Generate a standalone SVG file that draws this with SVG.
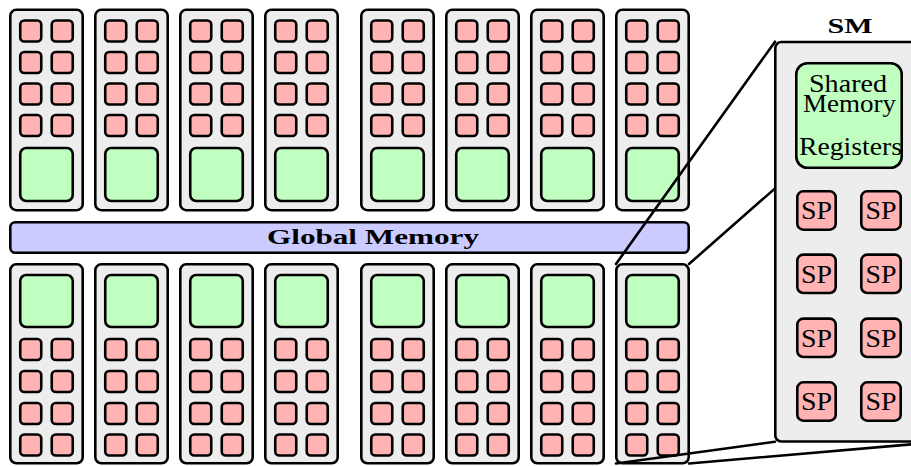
<svg xmlns="http://www.w3.org/2000/svg" xmlns:xlink="http://www.w3.org/1999/xlink" width="911" height="466" viewBox="0 0 911 466">
  <style>
    .sm { fill: #ededed; stroke: #000; stroke-width: 2.6; }
    .core { fill: #ffb3b3; stroke: #000; stroke-width: 2.6; }
    .mem { fill: #c0ffc0; stroke: #000; stroke-width: 2.6; }
    .gmem { fill: #cbcbff; stroke: #000; stroke-width: 2.6; }
    .link { fill: none; stroke: #000; stroke-width: 2.6; stroke-linecap: round; }
    .bold { font-family: "Liberation Serif", "DejaVu Serif", serif; font-weight: bold; font-size: 22px; fill: #000; }
    .lbl { font-family: "Liberation Serif", "DejaVu Serif", serif; font-size: 25px; fill: #000; text-anchor: middle; }
  </style>
  <defs>
    <!-- multiprocessor, upper row: cores on top, memory block below -->
    <g id="sm-up">
      <rect class="sm" x="1.3" y="9.8" width="72.4" height="200.4" rx="6"/>
      <rect class="core" x="11.25" y="20.5" width="21" height="21" rx="4"/>
      <rect class="core" x="42.75" y="20.5" width="21" height="21" rx="4"/>
      <rect class="core" x="11.25" y="52" width="21" height="21" rx="4"/>
      <rect class="core" x="42.75" y="52" width="21" height="21" rx="4"/>
      <rect class="core" x="11.25" y="83.5" width="21" height="21" rx="4"/>
      <rect class="core" x="42.75" y="83.5" width="21" height="21" rx="4"/>
      <rect class="core" x="11.25" y="115" width="21" height="21" rx="4"/>
      <rect class="core" x="42.75" y="115" width="21" height="21" rx="4"/>
      <rect class="mem" x="11.25" y="148" width="52.5" height="53" rx="6"/>
    </g>
    <!-- multiprocessor, lower row: memory block on top, cores below -->
    <g id="sm-down">
      <rect class="sm" x="1.3" y="264.3" width="72.4" height="199" rx="6"/>
      <rect class="mem" x="11.25" y="275" width="52.5" height="52" rx="6"/>
      <rect class="core" x="11.25" y="339" width="21" height="21" rx="4"/>
      <rect class="core" x="42.75" y="339" width="21" height="21" rx="4"/>
      <rect class="core" x="11.25" y="371" width="21" height="21" rx="4"/>
      <rect class="core" x="42.75" y="371" width="21" height="21" rx="4"/>
      <rect class="core" x="11.25" y="403" width="21" height="21" rx="4"/>
      <rect class="core" x="42.75" y="403" width="21" height="21" rx="4"/>
      <rect class="core" x="11.25" y="434.5" width="21" height="21" rx="4"/>
      <rect class="core" x="42.75" y="434.5" width="21" height="21" rx="4"/>
    </g>
  </defs>

  <!-- upper row of multiprocessors -->
  <g id="sm-u1" transform="translate(9,0)"><use xlink:href="#sm-up"/></g>
  <g id="sm-u2" transform="translate(94,0)"><use xlink:href="#sm-up"/></g>
  <g id="sm-u3" transform="translate(179,0)"><use xlink:href="#sm-up"/></g>
  <g id="sm-u4" transform="translate(264,0)"><use xlink:href="#sm-up"/></g>
  <g id="sm-u5" transform="translate(360,0)"><use xlink:href="#sm-up"/></g>
  <g id="sm-u6" transform="translate(445,0)"><use xlink:href="#sm-up"/></g>
  <g id="sm-u7" transform="translate(530,0)"><use xlink:href="#sm-up"/></g>
  <g id="sm-u8" transform="translate(615,0)"><use xlink:href="#sm-up"/></g>

  <!-- global memory bar -->
  <g id="global-memory">
    <rect class="gmem" x="10.3" y="222.3" width="678.4" height="30.4" rx="5"/>
    <text class="bold" x="373" y="244" text-anchor="middle" textLength="212" lengthAdjust="spacingAndGlyphs">Global Memory</text>
  </g>

  <!-- lower row of multiprocessors -->
  <g id="sm-d1" transform="translate(9,0)"><use xlink:href="#sm-down"/></g>
  <g id="sm-d2" transform="translate(94,0)"><use xlink:href="#sm-down"/></g>
  <g id="sm-d3" transform="translate(179,0)"><use xlink:href="#sm-down"/></g>
  <g id="sm-d4" transform="translate(264,0)"><use xlink:href="#sm-down"/></g>
  <g id="sm-d5" transform="translate(360,0)"><use xlink:href="#sm-down"/></g>
  <g id="sm-d6" transform="translate(445,0)"><use xlink:href="#sm-down"/></g>
  <g id="sm-d7" transform="translate(530,0)"><use xlink:href="#sm-down"/></g>
  <g id="sm-d8" transform="translate(615,0)"><use xlink:href="#sm-down"/></g>

  <!-- zoom lines from the last lower multiprocessor to the enlarged view -->
  <g id="connectors">
    <line class="link" x1="616" y1="264" x2="775" y2="41.7"/>
    <line class="link" x1="689" y1="264" x2="942" y2="41.7"/>
    <line class="link" x1="616" y1="463.5" x2="775" y2="441.7"/>
    <line class="link" x1="689" y1="463.5" x2="942" y2="441.7"/>
  </g>

  <!-- enlarged multiprocessor -->
  <g id="sm-detail">
    <text class="bold" x="850" y="33" text-anchor="middle" textLength="45" lengthAdjust="spacingAndGlyphs">SM</text>
    <rect class="sm" x="775.3" y="42" width="167" height="399.5" rx="6"/>
    <g id="shared-memory">
      <rect class="mem" x="796.3" y="63.3" width="105.4" height="104.4" rx="11"/>
      <text class="lbl" x="848" y="91.5" textLength="78" lengthAdjust="spacingAndGlyphs">Shared</text>
      <text class="lbl" x="849.5" y="111.5" textLength="93" lengthAdjust="spacingAndGlyphs">Memory</text>
      <text class="lbl" x="850.5" y="155" textLength="103" lengthAdjust="spacingAndGlyphs">Registers</text>
    </g>
    <g id="sp-1"><rect class="core" x="797.3" y="191.3" width="38.4" height="38.4" rx="6"/><text class="lbl" x="816.5" y="219" textLength="31" lengthAdjust="spacingAndGlyphs">SP</text></g>
    <g id="sp-2"><rect class="core" x="861.3" y="191.3" width="39.4" height="38.4" rx="6"/><text class="lbl" x="881" y="219" textLength="31" lengthAdjust="spacingAndGlyphs">SP</text></g>
    <g id="sp-3"><rect class="core" x="797.3" y="254.6" width="38.4" height="38.4" rx="6"/><text class="lbl" x="816.5" y="282.5" textLength="31" lengthAdjust="spacingAndGlyphs">SP</text></g>
    <g id="sp-4"><rect class="core" x="861.3" y="254.6" width="39.4" height="38.4" rx="6"/><text class="lbl" x="881" y="282.5" textLength="31" lengthAdjust="spacingAndGlyphs">SP</text></g>
    <g id="sp-5"><rect class="core" x="797.3" y="318.6" width="38.4" height="38.4" rx="6"/><text class="lbl" x="816.5" y="346.5" textLength="31" lengthAdjust="spacingAndGlyphs">SP</text></g>
    <g id="sp-6"><rect class="core" x="861.3" y="318.6" width="39.4" height="38.4" rx="6"/><text class="lbl" x="881" y="346.5" textLength="31" lengthAdjust="spacingAndGlyphs">SP</text></g>
    <g id="sp-7"><rect class="core" x="797.3" y="382.3" width="38.4" height="38.4" rx="6"/><text class="lbl" x="816.5" y="410" textLength="31" lengthAdjust="spacingAndGlyphs">SP</text></g>
    <g id="sp-8"><rect class="core" x="861.3" y="382.3" width="39.4" height="38.4" rx="6"/><text class="lbl" x="881" y="410" textLength="31" lengthAdjust="spacingAndGlyphs">SP</text></g>
  </g>
</svg>
